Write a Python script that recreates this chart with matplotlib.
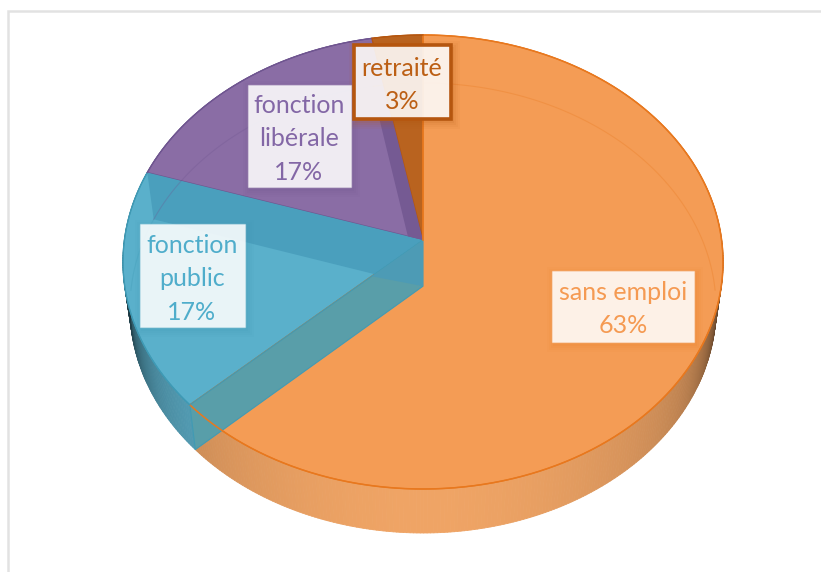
import numpy as np
import matplotlib
matplotlib.use("Agg")
import matplotlib.pyplot as plt
from matplotlib.collections import PolyCollection
from matplotlib.colors import to_rgb
from matplotlib.patches import Polygon, Rectangle

plt.rcParams['font.family'] = ['Lato', 'DejaVu Sans']

categories = ["sans emploi", "fonction\npublic", "fonction\nlibérale", "retraité"]
values = [63, 17, 17, 3]

face_colors = ["#F49C55", "#5AB0CB", "#8A6DA5", "#B9631F"]
edge_colors = ["#E8781E", "#3F9AB5", "#6F5590", "#B5560F"]
text_colors = ["#F59A52", "#4FADCB", "#8367A6", "#BC5F14"]
wall_colors = ["#EFA465", "#5FB3CE", "#8A6DA5", "#B9631F"]
boxes = [(552, 271, 142, 71), (140, 224, 105, 103), (248, 85, 103, 102), (354, 45, 97, 74)]
text_centres = [(623, 309), (192, 279), (299, 139), (402, 85)]

TOP = (423, 262, 300, 227)
BOTTOM = (423, 308, 293, 225)
K = 22 / 227

fig = plt.figure(figsize=(8.21, 5.72), dpi=100)
ax = fig.add_axes([0, 0, 1, 1])
ax.set_xlim(0, 821)
ax.set_ylim(572, 0)
ax.axis("off")

ax.plot([8, 8, 821], [572, 11, 11], color="#E2E2E2", lw=1.8, solid_joinstyle="miter")


def disk(f, r=1.0, ell=TOP):
    """Map a pie fraction (clockwise from the top) onto the tilted disk."""
    cx, cy, rx, ry = ell
    f = np.asarray(f, dtype=float)
    u = r * np.sin(2 * np.pi * f)
    v = r * np.cos(2 * np.pi * f)
    d = 1 + K * v
    return np.c_[cx + rx * np.sqrt(1 - K ** 2) * u / d, cy - ry * (v + K) / d]


def shade(color, f):
    u = abs(np.sin(2 * np.pi * f))
    factor = 1 - 0.25 * u ** 2 - 0.5 * u ** 14
    return tuple(np.array(to_rgb(color)) * factor)


edges = np.cumsum([0] + values) / sum(values)
apex_top = disk(0.0, 0.0)[0]
apex_bot = disk(0.0, 0.0, BOTTOM)[0]

# outer side walls, seen below the top face
for i in range(len(values)):
    fs = np.linspace(edges[i], edges[i + 1], max(int(values[i] * 6), 2))
    t, b = disk(fs), disk(fs, 1.0, BOTTOM)
    quads = [[t[j], t[j + 1], b[j + 1], b[j]] for j in range(len(fs) - 1)]
    cols = [shade(wall_colors[i], (fs[j] + fs[j + 1]) / 2) for j in range(len(fs) - 1)]
    ax.add_collection(PolyCollection(quads, facecolors=cols, edgecolors=cols, linewidths=0.6, zorder=2))


def face(i):
    fs = np.linspace(edges[i], edges[i + 1], 200)
    return np.vstack([apex_top, disk(fs)])


# top faces: blue, purple, brown first, orange after
for i in [1, 2, 3, 0]:
    ax.add_patch(Polygon(face(i), closed=True, fc=face_colors[i], ec=edge_colors[i], lw=0.9, zorder=3))

# internal wall between blue and purple, seen through the blue face
wall_bp = np.array([disk(edges[2])[0], apex_top, apex_bot, disk(edges[2], 1.0, BOTTOM)[0]])
ax.add_patch(Polygon(wall_bp, closed=True, fc="#4A9FBD", ec="none", zorder=4))

# purple wall against the brown slice
e3 = disk(edges[3])[0]
e2 = disk(edges[2])[0]
band = np.array([apex_top, apex_top + (e3 - apex_top) * 0.60,
                 apex_top + (e3 - apex_top) * 0.60 + (e2 - apex_top) * 0.05,
                 apex_top + (e2 - apex_top) * 0.055])
ax.add_patch(Polygon(band, closed=True, fc="#755A93", ec="none", zorder=4))

# internal wall between orange and blue, in front of the orange face
wall_ob = np.array([disk(edges[1])[0], apex_top, apex_bot, disk(edges[1], 1.0, BOTTOM)[0]])
ax.add_patch(Polygon(wall_ob, closed=True, fc="#539FAD", ec="#3F9AB5", lw=0.8, alpha=0.96, zorder=5))

# the blue/purple wall tints the top of the orange/blue wall
tint = np.array([apex_top, apex_bot, apex_top + (disk(edges[1])[0] - apex_top) * 0.22])
ax.add_patch(Polygon(tint, closed=True, fc="#4D9BB5", ec="none", zorder=5.5))

# rim of the orange face shows through that wall
fs = np.linspace(edges[0], edges[1], 400)
rim = disk(fs)
ax.plot(rim[:, 0], rim[:, 1], color=edge_colors[0], lw=1.1, zorder=6)
ax.plot([apex_top[0], disk(0.0)[0, 0]], [apex_top[1], disk(0.0)[0, 1]], color=edge_colors[0], lw=1.1, zorder=6)
for i in [1, 2, 3]:
    rf = np.linspace(edges[i], edges[i + 1], 100)
    r = disk(rf)
    ax.plot(r[:, 0], r[:, 1], color=edge_colors[i], lw=0.9, zorder=6)

# faint back edge of the lower disk, seen through the faces
for i in range(len(values)):
    rf = np.linspace(edges[i], edges[i + 1], 300)
    b = disk(rf, 1.0, BOTTOM)
    keep = (np.cos(2 * np.pi * rf) > -0.02)
    ax.plot(b[keep, 0], b[keep, 1], color=edge_colors[i], lw=0.8, alpha=0.3, zorder=5)

# data labels
for i, cat in enumerate(categories):
    x, y, w, h = boxes[i]
    for grow, a in [(7, 0.05), (5, 0.06), (3, 0.08), (1, 0.10)]:
        ax.add_patch(Rectangle((x - grow + 2, y - grow + 3), w + 2 * grow, h + 2 * grow,
                               fc=edge_colors[i], ec="none", alpha=a, zorder=7))
    is_last = i == len(categories) - 1
    ax.add_patch(Rectangle((x, y), w, h, fc=(1, 1, 1, 0.88),
                           ec=edge_colors[i] if is_last else (1, 1, 1, 0.35),
                           lw=2.6 if is_last else 1.0, zorder=8))
    cx, cy = text_centres[i]
    ax.text(cx, cy, f"{cat}\n{values[i]}%", ha="center", va="center", ma="center",
            fontsize=18, color=text_colors[i], linespacing=1.55, zorder=9)

fig.savefig("out.png", dpi=100)
